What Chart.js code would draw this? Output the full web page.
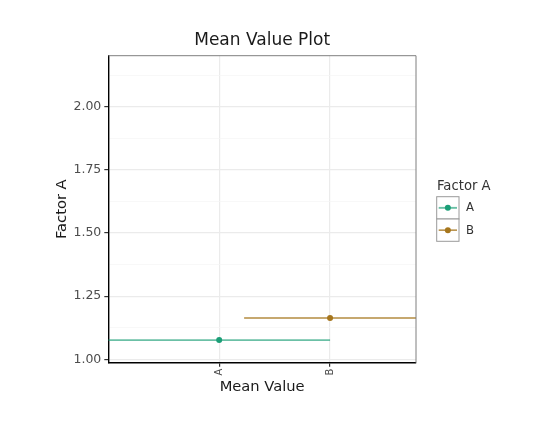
<!DOCTYPE html>
<html>
<head>
<meta charset="utf-8">
<script src="https://cdn.jsdelivr.net/npm/chart.js@4"></script>
<style>
  html, body { margin: 0; padding: 0; background: #fff; }
  canvas { display: block; }
</style>
</head>
<body>
<canvas id="chart" width="535" height="434"></canvas>
<script>
// data
const categories = ['A', 'B'];
const xPositions = [1, 2];
const means = [1.076, 1.163];
const lower = [0, 1.225];
const upper = [2, 2.775];
const colors = ['#1B9E77', '#A6761D'];
const lineColors = ['rgba(27,158,119,0.65)', 'rgba(166,118,29,0.85)'];
const yTicks = [1.00, 1.25, 1.50, 1.75, 2.00];

const FONT = "'DejaVu Sans', sans-serif";

const datasets = categories.map((cat, i) => ({
  label: cat,
  data: [
    { x: lower[i], y: means[i] },
    { x: xPositions[i], y: means[i] },
    { x: upper[i], y: means[i] }
  ],
  showLine: true,
  borderColor: lineColors[i],
  borderWidth: i === 0 ? 1.9 : 1.5,
  pointRadius: ctx => (ctx.dataIndex === 1 ? 3 : 0),
  pointBackgroundColor: colors[i],
  pointBorderColor: colors[i],
  pointBorderWidth: 0
}));

// gray top/right panel border (left and bottom come from the axes)
const panelBorder = {
  id: 'panelBorder',
  afterDatasetsDraw(chart) {
    const { ctx, chartArea: a } = chart;
    ctx.save();
    ctx.strokeStyle = '#7F7F7F';
    ctx.lineWidth = 1;
    ctx.beginPath();
    ctx.moveTo(a.left, a.top);
    ctx.lineTo(a.right, a.top);
    ctx.lineTo(a.right, a.bottom);
    ctx.stroke();
    ctx.restore();
  }
};

// ggplot-like legend with boxed keys on the right
const sideLegend = {
  id: 'sideLegend',
  afterDraw(chart) {
    const ctx = chart.ctx;
    const x0 = 436.7, y0 = 196.7, key = 22.3;
    ctx.save();
    ctx.fillStyle = '#333';
    ctx.font = '13.2px ' + FONT;
    ctx.textAlign = 'left';
    ctx.textBaseline = 'alphabetic';
    ctx.fillText('Factor A', 437, 190);

    chart.data.datasets.forEach((ds, i) => {
      const top = y0 + i * key;
      ctx.fillStyle = '#fff';
      ctx.fillRect(x0, top, key, key);
      ctx.strokeStyle = '#9a9a9a';
      ctx.lineWidth = 1;
      ctx.strokeRect(x0, top, key, key);
      const cy = top + key / 2;
      ctx.strokeStyle = ds.borderColor;
      ctx.lineWidth = ds.borderWidth;
      ctx.beginPath();
      ctx.moveTo(x0 + 2, cy);
      ctx.lineTo(x0 + key - 2, cy);
      ctx.stroke();
      ctx.fillStyle = ds.pointBackgroundColor;
      ctx.beginPath();
      ctx.arc(x0 + key / 2, cy, 3, 0, Math.PI * 2);
      ctx.fill();
      ctx.fillStyle = '#333';
      ctx.font = '11.7px ' + FONT;
      ctx.textBaseline = 'middle';
      ctx.fillText(ds.label, 466, cy + 0.5);
    });
    ctx.restore();
  }
};

new Chart(document.getElementById('chart'), {
  type: 'scatter',
  data: { datasets },
  plugins: [panelBorder, sideLegend],
  options: {
    responsive: false,
    animation: false,
    layout: { padding: { top: 0, right: 119, bottom: 0, left: 0 } },
    plugins: {
      legend: { display: false },
      tooltip: { enabled: false },
      title: {
        display: true,
        text: 'Mean Value Plot',
        fullSize: false,
        color: '#1a1a1a',
        font: { family: FONT, size: 17, weight: 'normal' },
        padding: { top: 30.8, bottom: 4.5 }
      }
    },
    scales: {
      x: {
        type: 'linear',
        min: 0,
        max: 2.775,
        afterBuildTicks: s => { s.ticks = xPositions.map(v => ({ value: v })); },
        afterFit: s => { s.height = 71.3; },
        border: { color: '#000', width: 1.4 },
        grid: { color: '#EBEBEB', lineWidth: 1.2, tickLength: 4, tickColor: '#333', drawTicks: true },
        ticks: {
          autoSkip: false,
          minRotation: 90,
          maxRotation: 90,
          padding: 2,
          color: '#4D4D4D',
          font: { family: FONT, size: 10 },
          callback: v => categories[xPositions.indexOf(v)]
        },
        title: {
          display: true,
          text: 'Mean Value',
          color: '#1a1a1a',
          font: { family: FONT, size: 14.7 },
          padding: { top: 0, bottom: 38.2 }
        }
      },
      y: {
        min: 0.9865,
        max: 2.202,
        afterFit: s => { s.width = 108.3; },
        border: { color: '#000', width: 1.4 },
        grid: {
          color: ctx => (yTicks.includes(ctx.tick.value) ? '#EBEBEB' : '#F5F5F5'),
          lineWidth: ctx => (yTicks.includes(ctx.tick.value) ? 1.2 : 0.7),
          tickLength: 4,
          tickColor: ctx => (yTicks.includes(ctx.tick.value) ? '#333' : 'rgba(0,0,0,0)')
        },
        ticks: {
          stepSize: 0.125,
          includeBounds: false,
          padding: 3,
          color: '#4D4D4D',
          font: { family: FONT, size: 12.5 },
          callback: v => (yTicks.includes(v) ? v.toFixed(2) : '')
        },
        title: {
          display: true,
          text: 'Factor A',
          color: '#1a1a1a',
          font: { family: FONT, size: 14.7 },
          padding: { top: 53 }
        }
      }
    }
  }
});
</script>
</body>
</html>
